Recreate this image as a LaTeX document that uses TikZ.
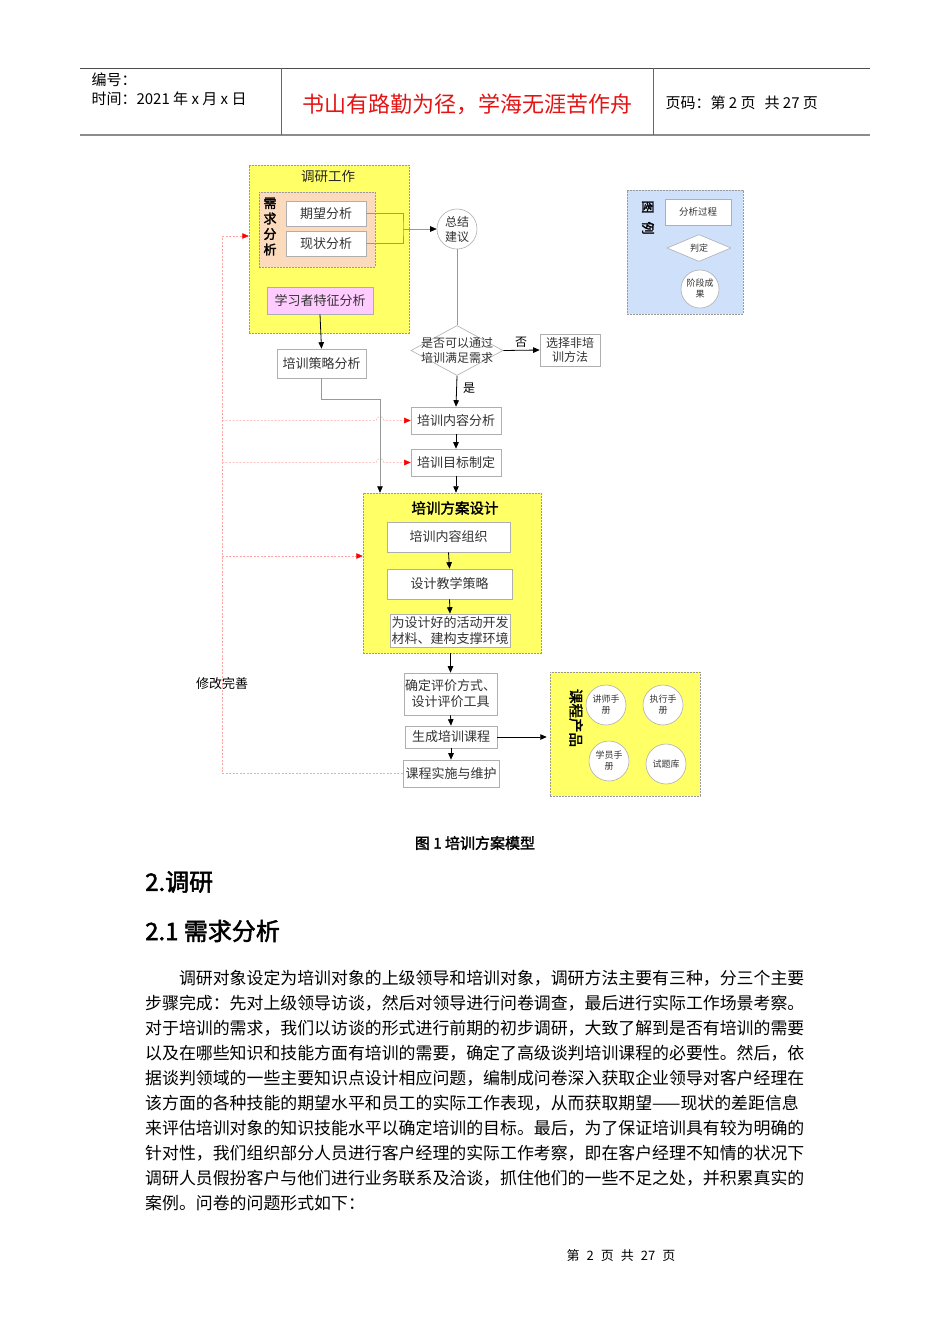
\documentclass[tikz,border=0pt]{standalone}
\usepackage{fontspec}
\setmainfont{Noto Sans CJK SC}[AutoFakeBold=2]
\usetikzlibrary{arrows.meta,shapes.geometric,positioning}
\definecolor{workyellow}{RGB}{255,255,102}
\definecolor{needpeach}{RGB}{252,218,188}
\definecolor{learnpink}{RGB}{255,204,255}
\definecolor{legendblue}{RGB}{206,224,250}
\definecolor{boxgray}{RGB}{175,175,175}
\definecolor{fbred}{RGB}{255,165,165}
\definecolor{mottored}{RGB}{228,20,20}
\newcommand{\fsz}[2]{\fontsize{#1pt}{#2pt}\selectfont}
\tikzset{
  box/.style={draw=boxgray, fill=white, line width=0.6pt, inner sep=0pt, align=center, text=black!80, font=\fsz{13}{16}},
  groupbox/.style={draw=black!40, dash pattern=on 2pt off 1pt, line width=0.5pt, inner sep=0pt},
  circ/.style={circle, draw=boxgray, fill=white, line width=0.6pt, inner sep=0pt, minimum size=40pt, align=center, text=black!80, font=\fsz{9}{11}},
  dia/.style={diamond, draw=boxgray, fill=white, line width=0.6pt, inner sep=0pt},
  arr/.style={-{Triangle[length=6.5pt,width=5.5pt]}, draw=black, line width=0.8pt},
  garr/.style={-{Triangle[length=6.5pt,width=5.5pt,color=black]}, draw=black!40, line width=0.6pt},
  gline/.style={draw=black!40, line width=0.6pt},
  fbline/.style={draw=fbred, dash pattern=on 2pt off 1.5pt, line width=0.5pt},
  fbarr/.style={fbline, -{Triangle[length=6.5pt,width=5.5pt,color=red]}},
  bodyline/.style={anchor=west, inner sep=0pt, font=\fsz{16.9}{20}},
}
\begin{document}
\begin{tikzpicture}[x=1pt,y=-1pt]
  \useasboundingbox[fill=white] (0,0) rectangle (950,1344);
  %page header
    \draw[black!70, line width=0.8pt] (80,68) -- (870,68);
    \draw[black!45, line width=2pt] (80,135) -- (870,135);
    \draw[black!60, line width=0.6pt] (281,68) -- (281,135) (653,68) -- (653,135);
    \node[anchor=west, font=\fsz{15}{18}] (hdno) at (88,80) {编号：};
    \node[anchor=west, font=\fsz{15}{18}] (hdtime) at (88,99) {时间：2021 年 x 月 x 日};
    \node[text=mottored, font=\fsz{22}{26}] (motto) at (467,104) {书山有路勤为径，学海无涯苦作舟};
    \node[anchor=west, font=\fsz{15}{18}] (hdpage) at (662,103) {页码：第 2 页\hspace{9pt}共 27 页};
  %research group
    \node[groupbox, fill=workyellow, minimum width=160pt, minimum height=168pt] (work) at (329,249) {};
    \node[font=\fsz{13.5}{16}, text=black!85] (worktitle) at (328,176) {调研工作};
    \node[groupbox, fill=needpeach, minimum width=116pt, minimum height=75pt] (need) at (317,229.5) {};
    \node[align=center, font=\bfseries\fsz{13}{15.5}] (needtitle) at (270,226.5) {需\\求\\分\\析};
    \node[box, minimum width=80pt, minimum height=25pt] (expect) at (326,213.5) {期望分析};
    \node[box, minimum width=80pt, minimum height=25pt] (status) at (326,243.5) {现状分析};
    \node[box, fill=learnpink, minimum width=106pt, minimum height=27pt] (learner) at (320,300.5) {学习者特征分析};
    \node[box, minimum width=89pt, minimum height=29pt] (strat) at (321.5,363.5) {培训策略分析};
  %decision branch
    \node[circ, font=\fsz{12}{15}] (summ) at (457,229) {总结\\建议};
    \node[dia, minimum width=92pt, minimum height=50pt] (judge) at (457,350.5) {};
    \node[align=center, text=black!80, font=\fsz{12}{15}] (judgetxt) at (judge.center) {是否可以通过\\培训满足需求};
    \node[box, font=\fsz{12}{14}, minimum width=60pt, minimum height=32pt] (nontrain) at (570,350) {选择非培\\训方法};
    \node[font=\fsz{12}{14}] (nolbl) at (521,342) {否};
    \node[font=\fsz{12}{14}] (yeslbl) at (469,388) {是};
    \node[box, minimum width=90pt, minimum height=27pt] (content) at (456,420.5) {培训内容分析};
    \node[box, minimum width=90pt, minimum height=27pt] (goal) at (456,462.5) {培训目标制定};
  %design group
    \node[groupbox, fill=workyellow, minimum width=178pt, minimum height=160pt] (design) at (452,573) {};
    \node[font=\bfseries\fsz{14.5}{17}] (designtitle) at (455,508) {培训方案设计};
    \node[box, minimum width=123pt, minimum height=30pt] (org) at (448.5,537) {培训内容组织};
    \node[box, minimum width=125pt, minimum height=30pt] (teach) at (449.5,584) {设计教学策略};
    \node[box, minimum width=120pt, minimum height=33pt] (mat) at (450,630.5) {为设计好的活动开发\\材料、建构支撑环境};
    \node[box, minimum width=93pt, minimum height=42pt] (evalb) at (450.5,694) {确定评价方式、\\设计评价工具};
    \node[box, minimum width=92pt, minimum height=22pt] (gen) at (451,737) {生成培训课程};
    \node[box, minimum width=96pt, minimum height=27pt] (impl) at (451,773.5) {课程实施与维护};
  %course products
    \node[groupbox, fill=workyellow, minimum width=150pt, minimum height=124pt] (prod) at (625,734) {};
    \node[rotate=-90, font=\bfseries\fsz{14.5}{17}] (prodtitle) at (576,718) {课程产品};
    \node[circ] (tutor) at (606,705) {讲师手\\册};
    \node[circ] (exec) at (663,705) {执行手\\册};
    \node[circ] (learnbk) at (609,761) {学员手\\册};
    \node[circ] (quiz) at (666,764) {试题库};
  %legend
    \node[groupbox, fill=legendblue, minimum width=116pt, minimum height=124pt] (legend) at (685,252) {};
    \node[rotate=-90, font=\bfseries\fsz{13}{15}] (legendtitle) at (648,217.5) {图\hspace{8pt}例};
    \node[box, font=\fsz{9.5}{11}, minimum width=66pt, minimum height=26pt] (lproc) at (698,212) {分析过程};
    \node[dia, minimum width=64pt, minimum height=27pt] (ljudge) at (699,248) {};
    \node[text=black!80, font=\fsz{9}{11}] (ljudgetxt) at (ljudge.center) {判定};
    \node[circ, minimum size=38pt] (lres) at (700,289) {阶段成\\果};
  %connectors
    \coordinate (brk) at (403,229);
    \draw[gline] (expect.east) -| (brk) |- (status.east);
    \draw[garr] (brk) -- (summ.west);
    \draw[arr] (learner.south) -- (strat.north);
    \coordinate (sbend) at (380,399);
    \draw[garr] (strat.south) |- (sbend) -- (sbend |- design.north);
    \draw[gline] (summ.south) -- (judge.north);
    \draw[arr] (judge.east) -- (nontrain.west);
    \draw[arr] (judge.south) -- (content.north);
    \draw[arr] (content.south) -- (goal.north);
    \draw[arr] (goal.south) -- (goal.south |- design.north);
    \draw[arr] (org.south) -- (teach.north);
    \draw[arr] (teach.south) -- (mat.north);
    \draw[arr] (evalb.north |- design.south) -- (evalb.north);
    \draw[arr] (evalb.south) -- (gen.north);
    \draw[arr] (gen.south) -- (impl.north);
    \draw[arr, shorten >=3pt] (gen.east) -- (gen.east -| prod.west);
  %feedback loop
    \coordinate (fbtop) at (222,236);
    \coordinate (fbbot) at (222,773.5);
    \coordinate (fbc) at (222,420.5);
    \coordinate (fbg) at (222,462.5);
    \coordinate (fbd) at (222,556);
    \coordinate (hopc) at (sbend |- fbc);
    \coordinate (hopg) at (sbend |- fbg);
    \draw[fbline] (impl.west) -- (fbbot) -- (fbtop);
    \draw[fbarr] (fbtop) -- (fbtop -| work.west);
    \draw[fbarr] (fbc) -- ([xshift=-4pt]hopc) arc[start angle=180, end angle=0, radius=4pt] -- (content.west);
    \draw[fbarr] (fbg) -- ([xshift=-4pt]hopg) arc[start angle=180, end angle=0, radius=4pt] -- (goal.west);
    \draw[fbarr] (fbd) -- (fbd -| design.west);
    \node[font=\fsz{13}{15}] (revise) at (222,684) {修改完善};
  %caption and text
    \node[font=\bfseries\fsz{15}{18}] (caption) at (475,843) {图 1 培训方案模型};
    \node[anchor=west, inner sep=0pt, font=\bfseries\fsz{24}{28}] (sec) at (145,882) {2.调研};
    \node[anchor=west, inner sep=0pt, font=\bfseries\fsz{24}{28}] (subsec) at (145,931) {2.1 需求分析};
    \node[bodyline] (l1) at (178.8,978) {调研对象设定为培训对象的上级领导和培训对象，调研方法主要有三种，分三个主要};
    \node[bodyline] (l2) at (145,1003) {步骤完成：先对上级领导访谈，然后对领导进行问卷调查，最后进行实际工作场景考察。};
    \node[bodyline] (l3) at (145,1028) {对于培训的需求，我们以访谈的形式进行前期的初步调研，大致了解到是否有培训的需要};
    \node[bodyline] (l4) at (145,1053) {以及在哪些知识和技能方面有培训的需要，确定了高级谈判培训课程的必要性。然后，依};
    \node[bodyline] (l5) at (145,1078) {据谈判领域的一些主要知识点设计相应问题，编制成问卷深入获取企业领导对客户经理在};
    \node[bodyline] (l6) at (145,1103) {该方面的各种技能的期望水平和员工的实际工作表现，从而获取期望——现状的差距信息};
    \node[bodyline] (l7) at (145,1128) {来评估培训对象的知识技能水平以确定培训的目标。最后，为了保证培训具有较为明确的};
    \node[bodyline] (l8) at (145,1153) {针对性，我们组织部分人员进行客户经理的实际工作考察，即在客户经理不知情的状况下};
    \node[bodyline] (l9) at (145,1178) {调研人员假扮客户与他们进行业务联系及洽谈，抓住他们的一些不足之处，并积累真实的};
    \node[bodyline] (l10) at (145,1203) {案例。问卷的问题形式如下：};
  %page footer
    \node[font=\fsz{13}{15}] (footer) at (621,1256) {第\hspace{7pt}2\hspace{7pt}页\hspace{7pt}共\hspace{7pt}27\hspace{7pt}页};
\end{tikzpicture}
\end{document}
